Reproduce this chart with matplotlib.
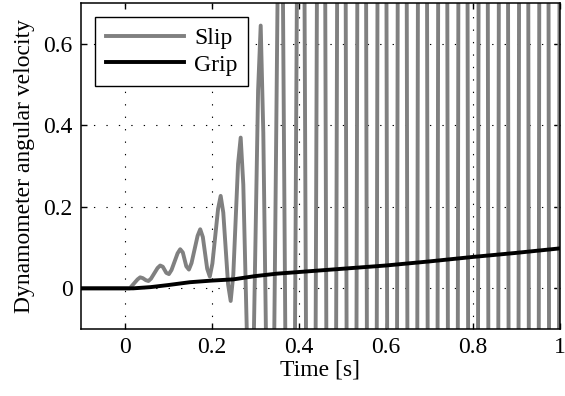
import matplotlib
matplotlib.use('Agg')
import matplotlib.pyplot as plt

# slip signal: extremes and their shoulders
# (values above/below the view are estimated)
slip_t = [-0.1, 0.0, 0.012, 0.030, 0.036, 0.042, 0.049, 0.055, 0.061,
          0.076, 0.082, 0.088, 0.096, 0.102, 0.108, 0.122, 0.128, 0.134,
          0.142, 0.148, 0.154, 0.168, 0.174, 0.180, 0.190, 0.196, 0.202,
          0.215, 0.221, 0.227, 0.238, 0.244, 0.250, 0.261, 0.267, 0.273,
          0.284, 0.290, 0.296, 0.307, 0.313, 0.319, 0.336, 0.359, 0.382,
          0.406, 0.429, 0.4525, 0.4758, 0.499, 0.5223, 0.5455, 0.5688,
          0.592, 0.6153, 0.6385, 0.6618, 0.685, 0.7083, 0.7315, 0.7548,
          0.778, 0.8013, 0.8245, 0.8478, 0.871, 0.8943, 0.9175, 0.9408,
          0.964, 0.9873, 1.0105]
slip_v = [0.0, 0.0, 0.0, 0.022, 0.027, 0.025, 0.020, 0.018, 0.024,
          0.050, 0.056, 0.053, 0.038, 0.035, 0.045, 0.086, 0.096, 0.088,
          0.054, 0.046, 0.062, 0.129, 0.145, 0.126, 0.048, 0.029, 0.061,
          0.195, 0.227, 0.186, 0.010, -0.031, 0.033, 0.306, 0.370, 0.255,
          -0.235, -0.35, -0.19, 0.486, 0.645, 0.382, -1.0, 1.5, -2.0,
          2.6, -3.0, 3.6, -4.0, 4.5, -4.9, 5.3, -5.6,
          6.0, -6.2, 6.5, -6.7, 7.0, -7.1, 7.3, -7.4,
          7.6, -7.7, 7.9, -8.0, 8.1, -8.2, 8.3, -8.4,
          8.5, -8.6, 8.7]

grip_t = [-0.1, 0.0, 0.02, 0.06, 0.1, 0.15, 0.2, 0.25, 0.3, 0.35, 0.4,
          0.5, 0.6, 0.7, 0.8, 0.9, 1.0]
grip_v = [0.0, 0.0, 0.0, 0.003, 0.008, 0.015, 0.019, 0.022, 0.030, 0.036, 0.040,
          0.048, 0.056, 0.066, 0.077, 0.087, 0.098]

x_ticks = [0, 0.2, 0.4, 0.6, 0.8, 1]
x_labels = ['0', '0.2', '0.4', '0.6', '0.8', '1']
y_ticks = [0, 0.2, 0.4, 0.6]
y_labels = ['0', '0.2', '0.4', '0.6']

plt.rcParams['font.family'] = ['Liberation Serif', 'DejaVu Serif']
plt.rcParams['font.size'] = 17

fig = plt.figure(figsize=(5.65, 3.96), dpi=100)
ax = fig.add_axes([0.1434, 0.169, 0.847, 0.823])

ax.plot(slip_t, slip_v, color='#808080', lw=2.8, label='Slip',
        solid_joinstyle='round')
ax.plot(grip_t, grip_v, color='black', lw=2.8, label='Grip')

ax.set_xlim(-0.1, 1)
ax.set_ylim(-0.1, 0.7)
ax.set_xticks(x_ticks)
ax.set_xticklabels(x_labels)
ax.set_yticks(y_ticks)
ax.set_yticklabels(y_labels)
ax.tick_params(direction='in', top=True, right=True, length=4, width=1,
               pad=6)
ax.grid(True, color='black', linestyle=(0, (1.2, 10)), linewidth=0.8)
for s in ax.spines.values():
    s.set_linewidth(1.1)

ax.set_xlabel('Time [s]', labelpad=1)
ax.set_ylabel('Dynamometer angular velocity', labelpad=6)

leg = ax.legend(loc='upper left', handlelength=3.3, labelspacing=0.2,
                borderaxespad=0.6, fancybox=False, framealpha=1,
                edgecolor='black', borderpad=0.45, handletextpad=0.45)
leg.get_frame().set_linewidth(1.0)

fig.savefig('out.png', dpi=100)
